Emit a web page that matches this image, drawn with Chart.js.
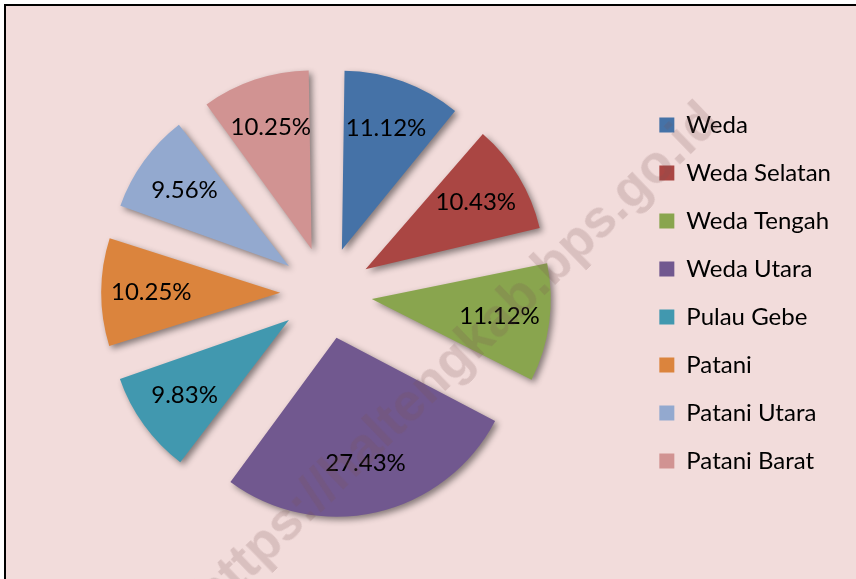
<!DOCTYPE html>
<html>
<head>
<meta charset="utf-8">
<script src="https://cdn.jsdelivr.net/npm/chart.js@4"></script>
<style>
  html, body { margin: 0; padding: 0; background: #fff; overflow: hidden; }
  #wrap { position: relative; width: 856px; height: 579px; overflow: hidden; }
  #frame {
    position: absolute; left: 4px; top: 4px; width: 900px; height: 700px;
    border: 2px solid #000; background: #f2dcdb;
  }
  #box { position: absolute; left: 0; top: 0; width: 856px; height: 579px; }
  #mark {
    position: absolute; left: 455px; top: 356px; white-space: nowrap;
    font: bold 53px "Liberation Sans", Arial, sans-serif; line-height: 1;
    color: rgba(120, 80, 80, 0.2);
    transform: translate(-50%, -50%) rotate(-44deg);
    pointer-events: none;
  }
</style>
</head>
<body>
<div id="wrap">
  <div id="frame"></div>
  <div id="box"><canvas id="pie"></canvas></div>
  <div id="mark">https://haltengkab.bps.go.id</div>
</div>
<script>
var districts = ["Weda", "Weda Selatan", "Weda Tengah", "Weda Utara", "Pulau Gebe", "Patani", "Patani Utara", "Patani Barat"];
var shares = [11.12, 10.43, 11.12, 27.43, 9.83, 10.25, 9.56, 10.25];
var sliceColors = ["#4572a7", "#aa4643", "#89a54e", "#71588f", "#4198af", "#db843d", "#93a9cf", "#d19392"];

// how far each slice is pulled out, in px (chart.js v4 moves arcs by offset / 4)
var sliceShift = 46;
var pieRadius = 179;

// same radius for every pulled slice, a shadow under them, percent labels on top
var sliceDecor = {
    id: 'sliceDecor',
    beforeDatasetsDraw: function (chart) {
        var meta = chart.getDatasetMeta(0);
        meta.data.forEach(function (arc) {
            // v4 grows thin pulled slices by offset * (1 - sin(angle)), undo that
            var fix = 1 - Math.sin(Math.min(Math.PI, arc.circumference));
            arc.outerRadius = pieRadius - sliceShift * fix;
        });
        var ctx = chart.ctx;
        ctx.save();
        ctx.shadowColor = 'rgba(0,0,0,0.45)';
        ctx.shadowBlur = 6;
        ctx.shadowOffsetX = 3;
        ctx.shadowOffsetY = 3;
    },
    afterDatasetsDraw: function (chart) {
        var ctx = chart.ctx;
        ctx.restore();
        var meta = chart.getDatasetMeta(0);
        ctx.save();
        ctx.font = '24px Lato';
        ctx.fillStyle = '#000';
        ctx.textAlign = 'center';
        ctx.textBaseline = 'middle';
        meta.data.forEach(function (arc, i) {
            var mid = (arc.startAngle + arc.endAngle) / 2;
            var d = sliceShift + pieRadius * 0.72;
            ctx.fillText(shares[i].toFixed(2) + '%', arc.x + Math.cos(mid) * d, arc.y + Math.sin(mid) * d);
        });
        ctx.restore();
    }
};

Chart.defaults.font.family = 'Lato';

new Chart(document.getElementById('pie'), {
    type: 'pie',
    data: {
        labels: districts,
        datasets: [{
            data: shares,
            backgroundColor: sliceColors,
            borderWidth: 0,
            offset: sliceShift * 4,
            hoverOffset: 0,
            radius: pieRadius,
            clip: false
        }]
    },
    options: {
        responsive: true,
        maintainAspectRatio: false,
        animation: false,
        events: [],
        layout: { padding: { left: 17, top: 7, right: 15, bottom: 0 } },
        plugins: {
            tooltip: { enabled: false },
            legend: {
                position: 'right',
                align: 'center',
                labels: {
                    color: '#000',
                    boxWidth: 15,
                    boxHeight: 15,
                    padding: 24,
                    font: { size: 24 }
                }
            }
        }
    },
    plugins: [sliceDecor]
});
</script>
</body>
</html>
